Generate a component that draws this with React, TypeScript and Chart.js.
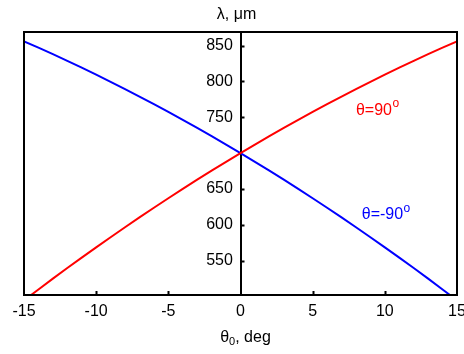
import React, { useEffect, useRef } from "react";
import { Chart, registerables } from "chart.js";

Chart.register(...registerables);

// ---- data ----
const theta0Deg = [-15, -14, -13, -12, -11, -10, -9, -8, -7, -6, -5, -4, -3, -2, -1, 0, 1, 2, 3, 4, 5, 6, 7, 8, 9, 10, 11, 12, 13, 14, 15];
const lambdaTheta90 = [494.5, 509.7, 524.8, 539.6, 554.1, 568.5, 582.6, 596.6, 610.3, 623.7, 637.0, 650.0, 662.9, 675.5, 687.8, 700.0, 711.9, 723.7, 735.2, 746.4, 757.5, 768.3, 778.9, 789.4, 799.5, 809.5, 819.2, 828.8, 838.1, 847.1, 856.0];
const lambdaThetaMinus90 = [856.0, 847.1, 838.1, 828.8, 819.2, 809.5, 799.5, 789.4, 778.9, 768.3, 757.5, 746.4, 735.2, 723.7, 711.9, 700.0, 687.8, 675.5, 662.9, 650.0, 637.0, 623.7, 610.3, 596.6, 582.6, 568.5, 554.1, 539.6, 524.8, 509.7, 494.5];
const xRange = [-15, 15];
const yRange = [502, 869];
const yTickValues = [550, 600, 650, 750, 800, 850];
const xTickValues = [-15, -10, -5, 0, 5, 10, 15];
const curveLabels = [
  { text: "θ=90", sup: "o", color: "#ff0000", x: 8.0, y: 760 },
  { text: "θ=-90", sup: "o", color: "#0000ff", x: 8.4, y: 614 },
];
const yTitle = "λ, μm";
const xTitleMain = "θ";
const xTitleSub = "0";
const xTitleRest = ", deg";

const FONT = "'Liberation Sans', Arial, sans-serif";

const overlay = {
  id: "overlay",
  afterDraw(chart: any) {
    const { ctx, chartArea: a, scales } = chart;
    const xs = scales.x;
    const ys = scales.y;
    ctx.save();
    ctx.strokeStyle = "#000";
    ctx.lineWidth = 2;
    ctx.strokeRect(a.left, a.top, a.right - a.left, a.bottom - a.top);
    // inner y ticks at the zero axis
    const x0 = xs.getPixelForValue(0);
    ctx.beginPath();
    ys.ticks.forEach((t: any) => {
      const py = Math.round(ys.getPixelForValue(t.value)) + 0.5;
      ctx.moveTo(x0, py);
      ctx.lineTo(x0 + 4, py);
    });
    // inner x ticks at the bottom
    xs.ticks.forEach((t: any) => {
      if (t.value === 0 || t.value === xRange[0] || t.value === xRange[1]) return;
      const px = Math.round(xs.getPixelForValue(t.value)) + 0.5;
      ctx.moveTo(px, a.bottom);
      ctx.lineTo(px, a.bottom - 4);
    });
    ctx.stroke();

    // titles
    ctx.fillStyle = "#000";
    ctx.textBaseline = "middle";
    ctx.font = `16px ${FONT}`;
    ctx.textAlign = "center";
    ctx.fillText(yTitle, (a.left + a.right) / 2 - 4, 15);

    // x title with subscript
    ctx.textAlign = "left";
    const wMain = ctx.measureText(xTitleMain).width;
    ctx.font = `11px ${FONT}`;
    const wSub = ctx.measureText(xTitleSub).width;
    ctx.font = `16px ${FONT}`;
    const wRest = ctx.measureText(xTitleRest).width;
    const total = wMain + wSub + wRest;
    let sx = (a.left + a.right) / 2 + 5 - total / 2;
    const ty = 338;
    ctx.fillText(xTitleMain, sx, ty);
    sx += wMain;
    ctx.font = `11px ${FONT}`;
    ctx.fillText(xTitleSub, sx, ty + 4);
    sx += wSub;
    ctx.font = `16px ${FONT}`;
    ctx.fillText(xTitleRest, sx, ty);

    // curve labels
    curveLabels.forEach((l) => {
      const px = xs.getPixelForValue(l.x);
      const py = ys.getPixelForValue(l.y);
      ctx.fillStyle = l.color;
      ctx.font = `16px ${FONT}`;
      ctx.fillText(l.text, px, py);
      const w = ctx.measureText(l.text).width;
      ctx.font = `12px ${FONT}`;
      ctx.fillText(l.sup, px + w + 0.5, py - 6);
    });
    ctx.restore();
  },
};

export default function App() {
  const ref = useRef<HTMLCanvasElement>(null);
  useEffect(() => {
    document.body.style.margin = "0";
    const canvas = ref.current!;
    const chart = new Chart(canvas, {
      type: "line",
      data: {
        datasets: [
          {
            data: theta0Deg.map((v, i) => ({ x: v, y: lambdaTheta90[i] })),
            borderColor: "#ff0000",
            borderWidth: 2,
            pointRadius: 0,
            tension: 0,
            clip: 0,
          },
          {
            data: theta0Deg.map((v, i) => ({ x: v, y: lambdaThetaMinus90[i] })),
            borderColor: "#0000ff",
            borderWidth: 2,
            pointRadius: 0,
            tension: 0,
            clip: 0,
          },
        ],
      },
      options: {
        animation: false,
        responsive: false,
        devicePixelRatio: 1,
        layout: { padding: { left: 24, right: 7, top: 32, bottom: 0 } },
        plugins: { legend: { display: false }, tooltip: { enabled: false } },
        scales: {
          x: {
            type: "linear",
            position: "bottom",
            min: xRange[0],
            max: xRange[1],
            grid: { display: false, drawTicks: false },
            border: { display: false },
            afterBuildTicks: (s: any) => {
              s.ticks = xTickValues.map((v) => ({ value: v }));
            },
            afterFit: (s: any) => {
              s.height = 59;
              s.paddingLeft = 0;
              s.paddingRight = 0;
            },
            ticks: {
              color: "#000",
              font: { family: FONT, size: 16 },
              padding: 7,
              maxRotation: 0,
              autoSkip: false,
            },
          },
          y: {
            type: "linear",
            position: { x: 0 } as any,
            min: yRange[0],
            max: yRange[1],
            z: 1,
            grid: { display: false, drawTicks: false },
            border: { display: true, color: "#000", width: 2 },
            afterBuildTicks: (s: any) => {
              s.ticks = yTickValues.map((v) => ({ value: v }));
            },
            ticks: {
              color: "#000",
              font: { family: FONT, size: 16 },
              autoSkip: false,
              callback: (v: any) => `${v}\u2009 `,
            },
          },
        },
      },
      plugins: [overlay],
    });
    return () => chart.destroy();
  }, []);
  return (
    <div style={{ width: 464, height: 354 }}>
      <canvas ref={ref} width={464} height={354} />
    </div>
  );
}
